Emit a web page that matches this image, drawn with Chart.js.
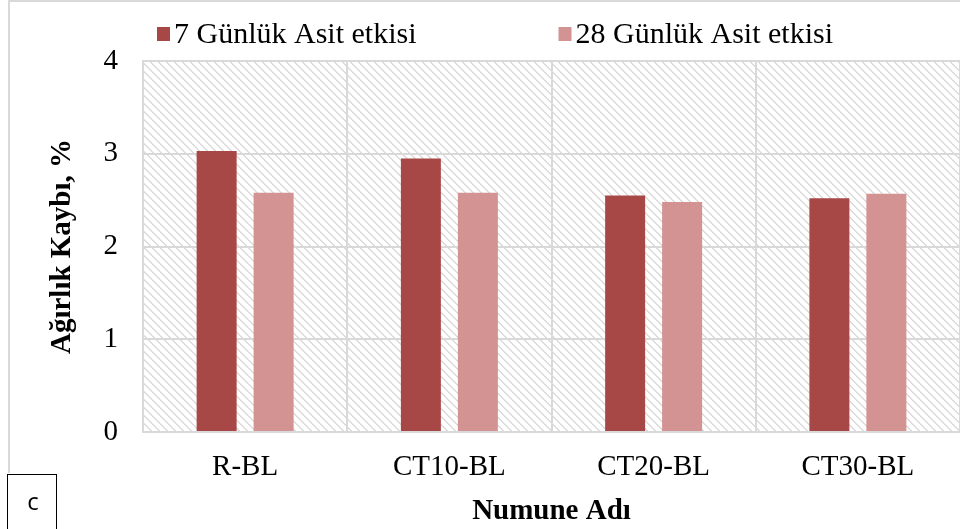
<!DOCTYPE html>
<html>
    <head>
        <meta charset="UTF-8" />
        <title> Ağırlık Kaybı </title>
        <style type="text/css">
            body{ margin: 0; background: #fff; }
            .chartBox{ width: 960px; height: 529px; }
        </style>
    </head>
    <body>
        <div class="chartBox">
            <canvas id="myChart"></canvas>
        </div>

        <script src="https://cdn.jsdelivr.net/npm/chart.js"></script>
        <script>
        //data
        const labels = ['R-BL', 'CT10-BL', 'CT20-BL', 'CT30-BL'];
        const seriesNames = ['7 Günlük Asit etkisi', '28 Günlük Asit etkisi'];
        const day7 = [3.03, 2.95, 2.55, 2.52];
        const day28 = [2.58, 2.58, 2.48, 2.57];
        const yTicks = [0, 1, 2, 3, 4];

        const serif = '"Liberation Serif", "Times New Roman", serif';
        const gridColor = '#d9d9d9';

        //hatch tile for plot background
        const tile = document.createElement('canvas');
        tile.width = 8; tile.height = 8;
        const tctx = tile.getContext('2d');
        tctx.fillStyle = '#fff';
        tctx.fillRect(0, 0, 8, 8);
        tctx.fillStyle = '#dcdcdc';
        for (let i = 0; i < 8; i++) {
            tctx.fillRect(i, i, 1, 1);
            tctx.fillRect((i + 1) % 8, i, 1, 1);
        }

        const bgPlugin = {
            id: 'bgPlugin',
            beforeDraw(chart) {
                const {ctx, chartArea: a} = chart;
                ctx.save();
                ctx.fillStyle = ctx.createPattern(tile, 'repeat');
                ctx.fillRect(a.left, a.top, a.right - a.left, a.bottom - a.top);
                ctx.restore();
            },
            afterDraw(chart) {
                const ctx = chart.ctx;
                ctx.save();
                // outer frame
                ctx.strokeStyle = gridColor;
                ctx.lineWidth = 2;
                ctx.beginPath();
                ctx.moveTo(9, 473);
                ctx.lineTo(9, 1);
                ctx.lineTo(960, 1);
                ctx.stroke();

                // legend
                ctx.font = '30px ' + serif;
                ctx.textBaseline = 'middle';
                ctx.textAlign = 'left';
                let x = 157;
                chart.data.datasets.forEach((ds) => {
                    ctx.fillStyle = ds.backgroundColor;
                    ctx.fillRect(x, 27, 13, 14);
                    ctx.fillStyle = '#000';
                    ctx.fillText(ds.label, x + 17, 35);
                    x += 17 + ctx.measureText(ds.label).width + 142;
                });

                // panel letter box
                ctx.fillStyle = '#fff';
                ctx.fillRect(8, 474, 49, 60);
                ctx.strokeStyle = '#000';
                ctx.lineWidth = 1;
                ctx.strokeRect(7.5, 474.5, 49, 60);
                ctx.fillStyle = '#000';
                ctx.font = '24px "Open Sans", "Liberation Sans", sans-serif';
                ctx.textAlign = 'center';
                ctx.fillText('c', 33, 503);
                ctx.restore();
            }
        };

        //setup
        const data = {
            labels: labels,
            datasets: [{
                label: seriesNames[0],
                data: day7,
                backgroundColor: '#a84846'
            }, {
                label: seriesNames[1],
                data: day28,
                backgroundColor: '#d39392'
            }]
        };

        //config
        const config = {
            type: 'bar',
            data,
            plugins: [bgPlugin],
            options: {
                responsive: true,
                maintainAspectRatio: false,
                animation: false,
                layout: { padding: { top: 61, left: 0, right: 0, bottom: 0 } },
                datasets: {
                    bar: { categoryPercentage: 0.558, barPercentage: 0.702 }
                },
                plugins: {
                    legend: { display: false },
                    tooltip: { enabled: false }
                },
                scales: {
                    x: {
                        grid: { color: gridColor, lineWidth: 2, drawTicks: false, offset: true },
                        border: { color: gridColor, width: 2 },
                        ticks: {
                            color: '#000',
                            font: { family: serif, size: 29 },
                            padding: 18,
                            maxRotation: 0,
                            autoSkip: false
                        },
                        title: {
                            display: true,
                            text: 'Numune Adı',
                            color: '#000',
                            font: { family: serif, size: 29, weight: 'bold' },
                            padding: 0
                        },
                        afterFit(scale) { scale.height = 97; }
                    },
                    y: {
                        min: 0,
                        max: 4,
                        afterBuildTicks(scale) { scale.ticks = yTicks.map(v => ({value: v})); },
                        grid: { color: gridColor, lineWidth: 2, drawTicks: false },
                        border: { color: gridColor, width: 2 },
                        ticks: {
                            color: '#000',
                            font: { family: serif, size: 29 },
                            padding: 25
                        },
                        title: {
                            display: true,
                            text: 'Ağırlık Kaybı, %',
                            color: '#000',
                            font: { family: serif, size: 29, weight: 'bold' },
                            padding: { top: 45, bottom: 0 }
                        },
                        afterFit(scale) { scale.width = 143; }
                    }
                }
            }
        };

        //render init
        const myChart = new Chart(
            document.getElementById('myChart'),
            config
        );
        </script>
    </body>
</html>
